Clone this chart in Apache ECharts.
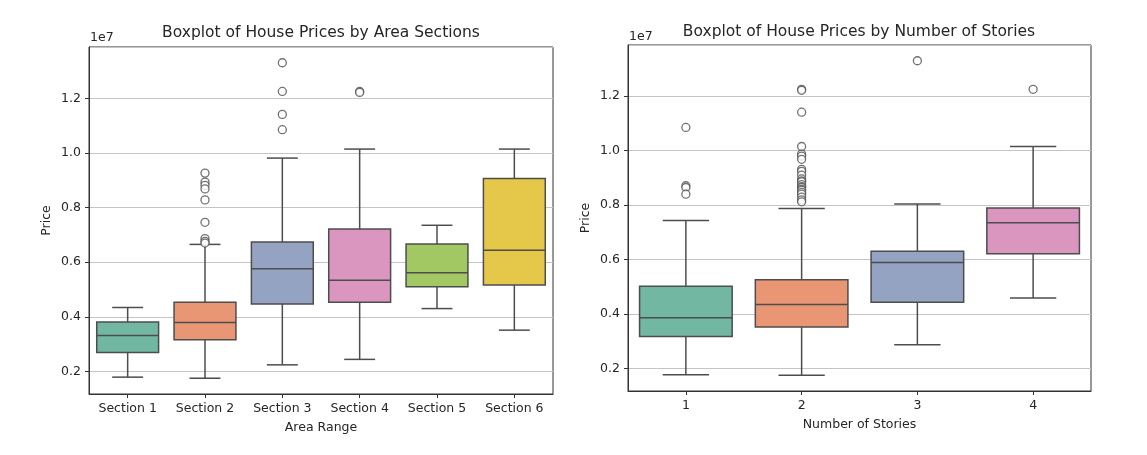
<!DOCTYPE html>
<html>
<head>
<meta charset="utf-8">
<script src="https://cdn.jsdelivr.net/npm/echarts@6/dist/echarts.min.js"></script>
<style>
html,body{margin:0;padding:0;background:#fff;}
#c{width:1147px;height:455px;}
</style>
</head>
<body>
<div id="c"></div>
<script>
// ---- data (prices in currency units) ----
const areaCategories = ['Section 1','Section 2','Section 3','Section 4','Section 5','Section 6'];
// [min whisker, Q1, median, Q3, max whisker]
const areaBoxes = [
  [1790000, 2690000, 3310000, 3810000, 4340000],
  [1750000, 3160000, 3790000, 4530000, 6650000],
  [2240000, 4470000, 5760000, 6740000, 9810000],
  [2440000, 4530000, 5340000, 7210000, 10140000],
  [4300000, 5100000, 5610000, 6660000, 7350000],
  [3510000, 5160000, 6440000, 9060000, 10140000]
];
// [category index, price]
const areaOutliers = [
  [1, 9260000],[1, 8930000],[1, 8810000],[1, 8680000],[1, 8280000],[1, 7460000],[1, 6860000],[1, 6760000],[1, 6700000],
  [2, 13300000],[2, 12250000],[2, 11410000],[2, 10850000],
  [3, 12250000],[3, 12215000]
];

const storyCategories = ['1','2','3','4'];
const storyBoxes = [
  [1770000, 3170000, 3860000, 5020000, 7430000],
  [1750000, 3520000, 4350000, 5260000, 7875000],
  [2870000, 4430000, 5890000, 6300000, 8043000],
  [4590000, 6210000, 7350000, 7890000, 10150000]
];
const storyOutliers = [
  [0, 10850000],[0, 8710000],[0, 8645000],[0, 8400000],
  [1, 12250000],[1, 12215000],[1, 11410000],[1, 10150000],[1, 9870000],[1, 9800000],[1, 9681000],
  [1, 9310000],[1, 9240000],[1, 9100000],[1, 8960000],[1, 8890000],[1, 8855000],[1, 8750000],
  [1, 8680000],[1, 8645000],[1, 8575000],[1, 8540000],[1, 8463000],[1, 8400000],[1, 8295000],
  [1, 8190000],[1, 8120000],
  [2, 13300000],
  [3, 12250000]
];

const yTickMin = 1172500, yTickMax = 13877500;

// ---- styling ----
const palette = ['#71b7a1','#e99675','#95a3c3','#db96c0','#a2c864','#e5c849'];
const lineColor = '#4d4d4d';
const textColor = '#262626';
const font = 'DejaVu Sans';

function renderBox(params, api) {
  const cat = api.value(0);
  const lo = api.coord([cat, api.value(1)]);
  const q1 = api.coord([cat, api.value(2)]);
  const md = api.coord([cat, api.value(3)]);
  const q3 = api.coord([cat, api.value(4)]);
  const hi = api.coord([cat, api.value(5)]);
  const band = api.size([1, 0])[0];
  const bw = band * 0.8;
  const cw = bw / 2;
  const x = lo[0];
  const ls = {stroke: lineColor, lineWidth: 1.5};
  return {
    type: 'group',
    children: [
      {type: 'line', shape: {x1: x, y1: lo[1], x2: x, y2: q1[1]}, style: ls},
      {type: 'line', shape: {x1: x, y1: q3[1], x2: x, y2: hi[1]}, style: ls},
      {type: 'line', shape: {x1: x - cw/2, y1: lo[1], x2: x + cw/2, y2: lo[1]}, style: ls},
      {type: 'line', shape: {x1: x - cw/2, y1: hi[1], x2: x + cw/2, y2: hi[1]}, style: ls},
      {type: 'rect', shape: {x: x - bw/2, y: q3[1], width: bw, height: q1[1] - q3[1]},
        style: {fill: palette[cat], stroke: lineColor, lineWidth: 1.5}},
      {type: 'line', shape: {x1: x - bw/2, y1: md[1], x2: x + bw/2, y2: md[1]}, style: ls}
    ]
  };
}

function boxData(boxes) {
  return boxes.map((b, i) => [i].concat(b));
}

function xAxisCfg(cats, name, gridIndex) {
  return {
    type: 'category', gridIndex, data: cats, boundaryGap: true,
    name, nameLocation: 'middle', nameGap: 27,
    nameTextStyle: {color: textColor, fontFamily: font, fontSize: 12.5},
    axisLine: {show: true, lineStyle: {color: '#333', width: 1}},
    axisTick: {show: true, alignWithLabel: true, length: 4, lineStyle: {color: '#333'}},
    axisLabel: {color: textColor, fontFamily: font, fontSize: 12.5, margin: 8},
    splitLine: {show: false}
  };
}
function yAxisCfg(gridIndex) {
  return {
    type: 'value', gridIndex, min: yTickMin, max: yTickMax, splitNumber: 6,
    name: 'Price', nameLocation: 'middle', nameGap: 36, nameRotate: 90,
    nameTextStyle: {color: textColor, fontFamily: font, fontSize: 12.5},
    axisLine: {show: true, lineStyle: {color: '#333', width: 1}},
    axisTick: {show: true, length: 4, lineStyle: {color: '#333'}},
    axisLabel: {color: textColor, fontFamily: font, fontSize: 12.5, margin: 8,
      showMinLabel: false, showMaxLabel: false,
      formatter: v => (v / 1e7).toFixed(1)},
    splitLine: {show: true, lineStyle: {color: '#c4c4c4', width: 1}}
  };
}

const outlierStyle = {color: '#ffffff', borderColor: lineColor, borderWidth: 1.3};

const chart = echarts.init(document.getElementById('c'), null, {renderer: 'canvas'});
chart.setOption({
  animation: false,
  backgroundColor: '#ffffff',
  grid: [
    {left: 89, top: 47, width: 464, height: 347, show: true, borderColor: '#333', borderWidth: 1, backgroundColor: 'transparent'},
    {left: 628, top: 45, width: 463, height: 346, show: true, borderColor: '#333', borderWidth: 1, backgroundColor: 'transparent'}
  ],
  xAxis: [xAxisCfg(areaCategories, 'Area Range', 0), xAxisCfg(storyCategories, 'Number of Stories', 1)],
  yAxis: [yAxisCfg(0), yAxisCfg(1)],
  graphic: [
    {type: 'text', x: 321, y: 33, style: {text: 'Boxplot of House Prices by Area Sections', fill: textColor, font: '15.5px "DejaVu Sans"', textAlign: 'center', textVerticalAlign: 'middle'}},
    {type: 'text', x: 859, y: 32, style: {text: 'Boxplot of House Prices by Number of Stories', fill: textColor, font: '15.5px "DejaVu Sans"', textAlign: 'center', textVerticalAlign: 'middle'}},
    {type: 'text', x: 90, y: 38, style: {text: '1e7', fill: textColor, font: '12.5px "DejaVu Sans"', textAlign: 'left', textVerticalAlign: 'middle'}},
    {type: 'text', x: 629, y: 37, style: {text: '1e7', fill: textColor, font: '12.5px "DejaVu Sans"', textAlign: 'left', textVerticalAlign: 'middle'}}
  ],
  series: [
    {type: 'custom', xAxisIndex: 0, yAxisIndex: 0, renderItem: renderBox, data: boxData(areaBoxes),
      encode: {x: 0, y: [1,2,3,4,5]}, z: 3},
    {type: 'scatter', xAxisIndex: 0, yAxisIndex: 0, data: areaOutliers, symbol: 'circle', symbolSize: 8,
      itemStyle: outlierStyle, z: 4},
    {type: 'custom', xAxisIndex: 1, yAxisIndex: 1, renderItem: renderBox, data: boxData(storyBoxes),
      encode: {x: 0, y: [1,2,3,4,5]}, z: 3},
    {type: 'scatter', xAxisIndex: 1, yAxisIndex: 1, data: storyOutliers, symbol: 'circle', symbolSize: 8,
      itemStyle: outlierStyle, z: 4}
  ]
});
</script>
</body>
</html>
